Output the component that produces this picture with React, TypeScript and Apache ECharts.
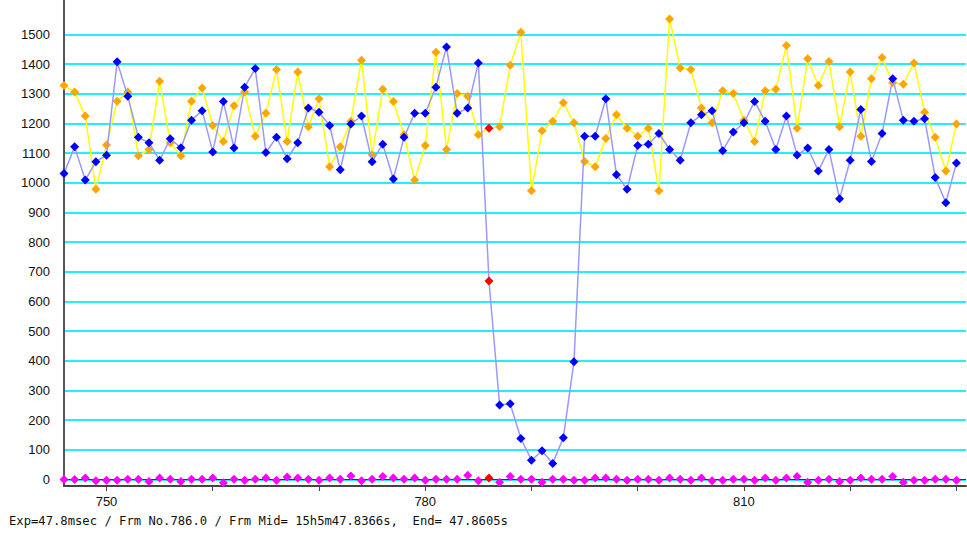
import React, { useEffect, useRef } from "react";
import * as echarts from "echarts";

const startFrame = 746;
const redFrame = 786;

const blueValues = [
  1031, 1121, 1009, 1071, 1093, 1408, 1292, 1153, 1135, 1076,
  1148, 1118, 1211, 1243, 1104, 1274, 1117, 1322, 1385, 1102,
  1153, 1081, 1135, 1252, 1238, 1193, 1044, 1198, 1225, 1071,
  1130, 1013, 1153, 1234, 1234, 1322, 1458, 1234, 1252, 1404,
  669, 251, 255, 138, 65, 97, 54, 141, 397, 1157,
  1157, 1283, 1027, 978, 1126, 1130, 1166, 1112, 1076, 1202,
  1229, 1243, 1108, 1171, 1202, 1274, 1207, 1112, 1225, 1094,
  1117, 1040, 1112, 946, 1076, 1247, 1072, 1166, 1351, 1211,
  1207, 1216, 1018, 933, 1067,
];

const orangeValues = [
  1328, 1306, 1225, 978, 1127, 1275, 1306, 1091, 1112, 1342,
  1135, 1091, 1275, 1319, 1193, 1139, 1260, 1306, 1157, 1234,
  1382, 1139, 1373, 1189, 1283, 1054, 1121, 1207, 1413, 1094,
  1315, 1274, 1162, 1009, 1126, 1440, 1112, 1301, 1292, 1162,
  1184, 1189, 1396, 1507, 973, 1175, 1207, 1270, 1202, 1072,
  1054, 1149, 1229, 1184, 1157, 1184, 973, 1552, 1387, 1382,
  1252, 1202, 1310, 1301, 1211, 1139, 1310, 1315, 1463, 1184,
  1418, 1328, 1409, 1189, 1373, 1157, 1351, 1422, 1337, 1332,
  1404, 1238, 1153, 1040, 1198,
];

const magentaValues = [
  0, 0, 5, -4, -3, -3, 1, 1, -7, 5,
  1, -7, 1, 1, 5, -11, 1, -3, 1, 5,
  -3, 8, 5, 1, -3, 5, 1, 12, -4, 1,
  10, 5, 1, 5, -3, 1, 1, 1, 14, -4,
  5, -9, 10, 1, 1, -9, 1, 1, -3, -3,
  5, 5, 1, -3, 1, 1, -3, 5, 1, -3,
  5, -4, -3, 1, 1, -3, 5, -3, 5, 10,
  -9, -3, 1, -7, -3, 5, 1, 1, 10, -9,
  -3, -3, 1, 1, -3,
];

const yLabelValues = [0, 100, 200, 300, 400, 500, 600, 700, 800, 900, 1000, 1100, 1200, 1300, 1400, 1500];
const xTickValues = [750, 760, 770, 780, 790, 800, 810, 820, 830];
const xLabelValues = [750, 780, 810];

const footerText = "Exp=47.8msec / Frm No.786.0 / Frm Mid= 15h5m47.8366s,  End= 47.8605s";

function toPoints(values: number[]) {
  return values.map((v, i) => {
    const f = startFrame + i;
    if (f === redFrame) {
      return { value: [f, v], itemStyle: { color: "#ff0000" } };
    }
    return { value: [f, v] };
  });
}

export default function App() {
  const ref = useRef<HTMLDivElement>(null);

  useEffect(() => {
    if (!ref.current) return;
    const chart = echarts.init(ref.current, undefined, { renderer: "svg" });
    const labelFont = {
      fontFamily: "Liberation Sans, Arial, sans-serif",
      fontSize: 13,
      color: "#111",
    };
    chart.setOption({
      animation: false,
      backgroundColor: "#ffffff",
      grid: { left: 64, right: 1, top: 0, bottom: 56, containLabel: false },
      xAxis: {
        type: "value",
        min: 746,
        max: 830.9,
        axisLine: { show: true, onZero: false, lineStyle: { color: "#444", width: 2 } },
        axisTick: {
          show: true,
          length: 5,
          customValues: xTickValues,
          lineStyle: { color: "#444", width: 1 },
        },
        axisLabel: {
          ...labelFont,
          margin: 9,
          customValues: xLabelValues,
          formatter: (v: number) => String(v),
        },
        splitLine: { show: false },
      },
      yAxis: {
        type: "value",
        min: -22,
        max: 1616,
        axisLine: { show: true, lineStyle: { color: "#555", width: 2 } },
        axisTick: { show: false, customValues: yLabelValues },
        axisLabel: {
          ...labelFont,
          margin: 14,
          customValues: yLabelValues,
          verticalAlign: "middle",
          formatter: (v: number) => String(v),
        },
        splitLine: { show: true, lineStyle: { color: "#22eeff", width: 2 } },
      },
      series: [
        {
          type: "line",
          name: "orange",
          data: toPoints(orangeValues),
          symbol: "diamond",
          symbolSize: 9,
          itemStyle: { color: "#ffa500" },
          lineStyle: { color: "#ffff00", width: 1.5 },
          clip: false,
          z: 3,
        },
        {
          type: "line",
          name: "blue",
          data: toPoints(blueValues),
          symbol: "diamond",
          symbolSize: 9,
          itemStyle: { color: "#0000ff" },
          lineStyle: { color: "#9999ff", width: 1.5 },
          clip: false,
          z: 4,
        },
        {
          type: "line",
          name: "magenta",
          data: toPoints(magentaValues),
          symbol: "diamond",
          symbolSize: 9,
          itemStyle: { color: "#ff00ff" },
          lineStyle: { width: 0, opacity: 0 },
          clip: false,
          z: 5,
          markLine: {
            silent: true,
            symbol: ["none", "none"],
            label: { show: false },
            lineStyle: { color: "#333", width: 1, type: "solid" },
            data: [{ yAxis: 0 }],
            z: 2,
          },
        },
      ],
      graphic: [
        {
          type: "text",
          left: 9,
          top: 515,
          style: {
            text: footerText,
            fontFamily: "DejaVu Sans Mono, monospace",
            fontSize: 12.2,
            fill: "#111",
          },
        },
      ],
    });
    return () => chart.dispose();
  }, []);

  return (
    <div
      ref={ref}
      style={{ position: "fixed", left: 0, top: 0, width: 967, height: 542 }}
    />
  );
}
